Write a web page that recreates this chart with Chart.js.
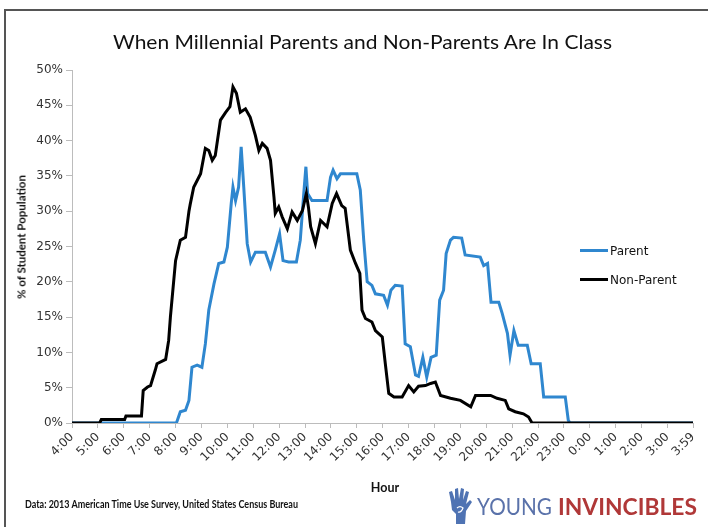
<!DOCTYPE html>
<html>
<head>
<meta charset="utf-8">
<script src="https://cdn.jsdelivr.net/npm/chart.js@4.4.1/dist/chart.umd.min.js"></script>
<style>
  html, body { margin: 0; padding: 0; background: #fff; }
  body { width: 708px; height: 527px; position: relative; overflow: hidden; }
  #frame { position: absolute; left: 4px; top: 9px; width: 800px; height: 600px; border: 2px solid #555; box-sizing: border-box; }
  #chart { position: absolute; left: 0; top: 0; }
  .txt { position: absolute; white-space: nowrap; color: #222; transform-origin: 0 0; }
  #title { left: 113px; top: 29px; font: 20px Lato, sans-serif; color: #111; }
  #ytitle { left: 21px; top: 237px; transform: translate(-50%, -50%) rotate(-90deg); transform-origin: 50% 50%; font: bold 11.5px Lato, sans-serif; color: #111; }
  #xtitle { left: 385px; top: 487px; transform: translate(-50%, -50%); transform-origin: 50% 50%; font: bold 12.5px Lato, sans-serif; color: #111; }
  #source { left: 25px; top: 497px; font: bold 11.5px Lato, sans-serif; color: #111; }
  .leg { position: absolute; left: 580px; font: 12px "DejaVu Sans", sans-serif; color: #111; }
  .leg span { display: inline-block; width: 28px; height: 3px; vertical-align: middle; margin-right: 2px; position: relative; top: -1px; }
  #hand { position: absolute; left: 447px; top: 486px; }
  .word { position: absolute; top: 492px; font: 23px Lato, sans-serif; white-space: nowrap; transform-origin: 0 0; }
</style>
</head>
<body>
<div id="frame"></div>
<canvas id="chart" width="708" height="527"></canvas>
<div class="txt" id="title" data-w="499">When Millennial Parents and Non-Parents Are In Class</div>
<div class="txt" id="ytitle">% of Student Population</div>
<div class="txt" id="xtitle">Hour</div>
<div class="txt" id="source" data-w="273">Data: 2013 American Time Use Survey, United States Census Bureau</div>
<div class="leg" style="top:244px"><span style="background:#2f87cf"></span>Parent</div>
<div class="leg" style="top:273px"><span style="background:#000"></span>Non-Parent</div>
<svg id="hand" width="26" height="40" viewBox="0 0 26 40">
  <path d="M4 16 L2 6 L5 5 L8 14 L8 3 L11 2 L12 13 L14 2 L17 3 L16 14 L19 5 L22 6 L19 18 L23 14 L25 16 L19 25 L18 38 L9 38 L9 28 L5 24 Z" fill="#4f73b3"/>
  <path d="M10 22 Q13 19 16 22 Q14 27 11 26" stroke="#fff" stroke-width="1.2" fill="none"/>
</svg>
<div class="word" style="left:477px;color:#5a72aa" data-w="75">YOUNG</div>
<div class="word" style="left:558px;color:#b03838;font-weight:bold" data-w="139">INVINCIBLES</div>
<script>
// x ticks every hour starting 4:00, last one 3:59
const HOUR_LABELS = ["4:00", "5:00", "6:00", "7:00", "8:00", "9:00", "10:00", "11:00", "12:00",
  "13:00", "14:00", "15:00", "16:00", "17:00", "18:00", "19:00", "20:00", "21:00", "22:00",
  "23:00", "0:00", "1:00", "2:00", "3:00", "3:59"];
const Y_TICKS = [0, 5, 10, 15, 20, 25, 30, 35, 40, 45, 50];

// Parent: time of day, % of student population in class
const PARENT_TIMES = ["4:00", "8:02", "8:11", "8:23", "8:31", "8:38", "8:50", "9:01", "9:09", "9:17",
  "9:29", "9:40", "9:52", "10:00", "10:09", "10:13", "10:19", "10:26", "10:32", "10:38", "10:46",
  "10:54", "11:05", "11:28", "11:40", "11:51", "12:01", "12:09", "12:22", "12:40", "12:49", "12:57",
  "13:02", "13:06", "13:16", "13:51", "13:59", "14:05", "14:14", "14:22", "15:00", "15:08", "15:16",
  "15:24", "15:35", "15:43", "16:02", "16:11", "16:19", "16:29", "16:45", "16:52", "17:04", "17:16",
  "17:23", "17:33", "17:42", "17:52", "18:04", "18:12", "18:21", "18:27", "18:37", "18:44", "19:03",
  "19:11", "19:46", "19:54", "20:03", "20:11", "20:29", "20:37", "20:49", "20:55", "21:04", "21:14",
  "21:35", "21:44", "22:05", "22:13", "23:03", "23:10", "23:14", "3:59"];
const PARENT_VALUES = [0, 0, 1.6, 1.8, 3.2, 7.9, 8.2, 7.9, 11.2, 16,
  19.7, 22.6, 22.8, 24.9, 31.1, 33.4, 31.5, 33.4, 39.1, 33.4, 25.4,
  22.8, 24.2, 24.2, 22.1, 24.5, 26.8, 23, 22.8, 22.8, 25.9, 32.5,
  36.3, 32.5, 31.5, 31.5, 34.8, 35.8, 34.6, 35.3, 35.3, 33, 25.9,
  20, 19.5, 18.3, 18.1, 16.7, 18.8, 19.5, 19.4, 11.2, 10.8, 6.8,
  6.6, 9.3, 6.5, 9.3, 9.6, 17.4, 18.8, 24, 25.9, 26.3, 26.2,
  23.8, 23.5, 22.3, 22.6, 17.1, 17.1, 15.5, 12.7, 9.6, 13.1, 11,
  11, 8.4, 8.4, 3.7, 3.7, 0.4, 0, 0];

// Non-Parent
const NONPARENT_TIMES = ["4:00", "5:04", "5:08", "6:02", "6:05", "6:41", "6:45", "6:55", "7:02", "7:13",
  "7:17", "7:37", "7:44", "7:48", "8:00", "8:11", "8:23", "8:31", "8:34", "8:42", "8:58", "9:09",
  "9:17", "9:25", "9:32", "9:44", "9:56", "10:06", "10:13", "10:21", "10:30", "10:42", "10:53",
  "11:05", "11:13", "11:21", "11:32", "11:40", "11:48", "11:51", "11:59", "12:07", "12:19", "12:30",
  "12:42", "12:54", "13:03", "13:08", "13:13", "13:24", "13:36", "13:51", "14:03", "14:13", "14:25",
  "14:33", "14:45", "14:57", "15:07", "15:12", "15:20", "15:35", "15:43", "15:59", "16:06", "16:14",
  "16:26", "16:45", "17:00", "17:12", "17:23", "17:39", "17:51", "18:02", "18:14", "18:37", "19:00",
  "19:24", "19:35", "20:10", "20:25", "20:44", "20:52", "21:07", "21:26", "21:38", "21:46", "3:59"];
const NONPARENT_VALUES = [0, 0, 0.5, 0.5, 1.0, 1.0, 4.6, 5.1, 5.3, 7.5,
  8.4, 9.0, 11.7, 15, 23, 25.9, 26.3, 30, 31, 33.4, 35.3, 38.9,
  38.6, 37.2, 37.9, 42.9, 44, 44.8, 47.6, 46.7, 44, 44.5, 43.3,
  40.7, 38.6, 39.6, 38.9, 37.2, 32, 29.7, 30.6, 29.2, 27.5, 29.9,
  28.7, 30.1, 32.5, 30.5, 27.8, 25.4, 28.7, 27.8, 31.1, 32.5, 30.8,
  30.4, 24.5, 22.6, 21.2, 16, 14.8, 14.3, 13.1, 12.2, 8.4, 4.2,
  3.7, 3.7, 5.3, 4.4, 5.2, 5.3, 5.6, 5.8, 3.9, 3.5, 3.2,
  2.3, 3.9, 3.9, 3.5, 3.2, 2.0, 1.6, 1.3, 0.85, 0, 0];

// minutes since 4:00, wrapping past midnight
function toMinutes(t) {
  const [h, m] = t.split(":").map(Number);
  let v = h * 60 + m - 240;
  if (v < 0) v += 1440;
  return v;
}

function points(times, values) {
  return times.map((t, i) => ({ x: toMinutes(t), y: values[i] }));
}

// squeeze text boxes to the widths seen in the original
document.querySelectorAll("[data-w]").forEach((el) => {
  const w = el.getBoundingClientRect().width;
  el.style.transform = "scaleX(" + (Number(el.dataset.w) / w) + ")";
});

const tickFont = { family: "DejaVu Sans", size: 12 };
const axisGrey = "#bcbcbc";

new Chart(document.getElementById("chart"), {
  type: "line",
  data: {
    datasets: [
      {
        label: "Parent",
        data: points(PARENT_TIMES, PARENT_VALUES),
        borderColor: "#2f87cf",
        borderWidth: 3,
        pointRadius: 0,
        tension: 0,
        order: 1,
      },
      {
        label: "Non-Parent",
        data: points(NONPARENT_TIMES, NONPARENT_VALUES),
        borderColor: "#000",
        borderWidth: 3,
        pointRadius: 0,
        tension: 0,
        order: 0,
      },
    ],
  },
  options: {
    responsive: false,
    animation: false,
    layout: { padding: { top: 70, right: 15, left: 0, bottom: 0 } },
    plugins: { legend: { display: false }, tooltip: { enabled: false } },
    scales: {
      x: {
        type: "linear",
        min: 0,
        max: 1439,
        afterFit: (s) => { s.height = 104; },
        afterBuildTicks: (s) => {
          s.ticks = HOUR_LABELS.map((l) => ({ value: toMinutes(l) }));
        },
        ticks: {
          autoSkip: false,
          minRotation: 45,
          maxRotation: 45,
          color: "#333",
          font: tickFont,
          padding: 2,
          callback: (v) => HOUR_LABELS.find((l) => toMinutes(l) === v),
        },
        grid: { drawOnChartArea: false, tickLength: 5, color: axisGrey },
        border: { color: axisGrey },
      },
      y: {
        min: 0,
        max: 50,
        afterFit: (s) => { s.width = 72; },
        afterBuildTicks: (s) => { s.ticks = Y_TICKS.map((v) => ({ value: v })); },
        ticks: { color: "#333", font: tickFont, padding: 3, callback: (v) => v + "%" },
        grid: { drawOnChartArea: false, tickLength: 6, color: axisGrey },
        border: { color: axisGrey },
      },
    },
  },
});
</script>
</body>
</html>
